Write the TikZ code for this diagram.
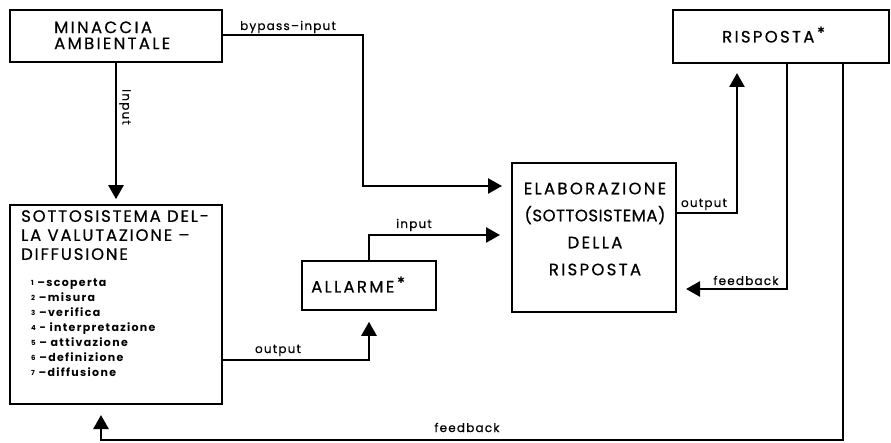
\documentclass[tikz,border=0pt]{standalone}
\usepackage{fontspec}
\setmainfont{Poppins}
\newfontfamily\hfont[LetterSpace=14,FakeBold=0.6]{Poppins}
\newfontfamily\hfontn[LetterSpace=11,FakeBold=0.6]{Poppins}
\newfontfamily\hfontp[LetterSpace=3,FakeBold=0.6]{Poppins}
\newfontfamily\lfont[LetterSpace=10,FakeBold=0.5]{Poppins}
\newfontfamily\listfont[LetterSpace=12]{Poppins}
\newfontfamily\dejavu{DejaVu Sans}
\usetikzlibrary{arrows.meta}
\newcommand{\astx}{\hspace{3pt}\raisebox{9pt}{\dejavu\fontsize{9}{9}\selectfont ✱}}
\newcommand{\nm}[1]{\raisebox{1pt}{\fontsize{7}{7}\selectfont\bfseries #1}}
\begin{document}
\begin{tikzpicture}[x=1pt,y=-1pt,
  box/.style={draw, line width=1.6pt, inner sep=0pt},
  conn/.style={line width=2.6pt},
  arr/.style={conn, -{Triangle[length=14pt,width=15pt]}},
  head/.style={font=\hfont\fontsize{16.5}{16}\selectfont, inner sep=0pt},
  lab/.style={font=\lfont\fontsize{12}{12}\selectfont, inner sep=0pt}
]
\useasboundingbox (0,0) rectangle (891,443);

% boxes
\node[box, minimum width=212pt, minimum height=52pt]  (min) at (116,36) {};
\node[box, minimum width=212pt, minimum height=199pt] (sot) at (116,304.5) {};
\node[box, minimum width=134pt, minimum height=49pt]  (all) at (369,285.5) {};
\node[box, minimum width=164pt, minimum height=149pt] (ela) at (594,237.5) {};
\node[box, minimum width=216pt, minimum height=53pt]  (ris) at (781,36.5) {};

% texts
\node[head, anchor=west, align=left] (mintxt) at (54,35.3) {MINACCIA\\AMBIENTALE};
\node[head, anchor=north west, align=left, font=\hfontn\fontsize{16.5}{19}\selectfont] (sothead) at (21,210)
  {SOTTOSISTEMA DEL-\\LA VALUTAZIONE –\\DIFFUSIONE};
\node[anchor=north west, align=left, inner sep=0pt, font=\listfont\bfseries\fontsize{11}{15}\selectfont] (sotlist) at (31,279)
  {\nm{1} –scoperta\\\nm{2} –misura\\\nm{3} –verifica\\\nm{4} - interpretazione\\\nm{5} – attivazione\\\nm{6} –definizione\\\nm{7} –diffusione};
\node[head, anchor=base west] (alltxt) at (311,292.5) {ALLARME\astx};
\node[head, align=center, font=\hfont\fontsize{16.5}{27}\selectfont] (elatxt) at (595,229)
  {ELABORAZIONE\\{\hfontp(SOTTOSISTEMA)}\\DELLA\\RISPOSTA};
\node[head, anchor=base west] (ristxt) at (722,42.5) {RISPOSTA\astx};

% named coordinates for connector bends
\coordinate (bpturn) at (363,35);
\coordinate (bpin) at (512,186);
\coordinate (sotout) at (222,360);
\coordinate (allin) at (512,235);
\coordinate (elaout) at (676,213);
\coordinate (risout) at (737,63);
\coordinate (fb1a) at (787,63);
\coordinate (fb1b) at (676,289);
\coordinate (fb2a) at (843,63);
\coordinate (fb2b) at (843,440);
\coordinate (fb2c) at (101,440);
\coordinate (fb2d) at (101,404);

% connectors
\draw[arr, shorten >=5pt] (min.south) -- (sot.north);
\draw[arr, shorten >=10pt] (min.east |- bpturn) -- (bpturn) |- (bpin);
\draw[arr, shorten >=11pt] (sotout) -| (all.south);
\draw[arr, shorten >=12pt] (all.north) |- (allin);
\draw[arr, shorten >=10pt] (elaout) -| (risout);
\draw[arr, shorten >=10pt] (fb1a) |- (fb1b);
\draw[arr, shorten >=11pt] (fb2a) -- (fb2b) -- (fb2c) -- (fb2d);

% labels
\node[lab, rotate=-90] (lin) at (125,107) {Input};
\node[lab, anchor=base] (lbp) at (288,30) {bypass–input};
\node[lab, anchor=base] (lout1) at (278,353) {output};
\node[lab, anchor=base] (lin2) at (414,228) {input};
\node[lab, anchor=base] (lout2) at (704,207) {output};
\node[lab, anchor=base] (lfb1) at (746,285) {feedback};
\node[lab, anchor=base] (lfb2) at (467,432) {feedback};
\end{tikzpicture}
\end{document}
